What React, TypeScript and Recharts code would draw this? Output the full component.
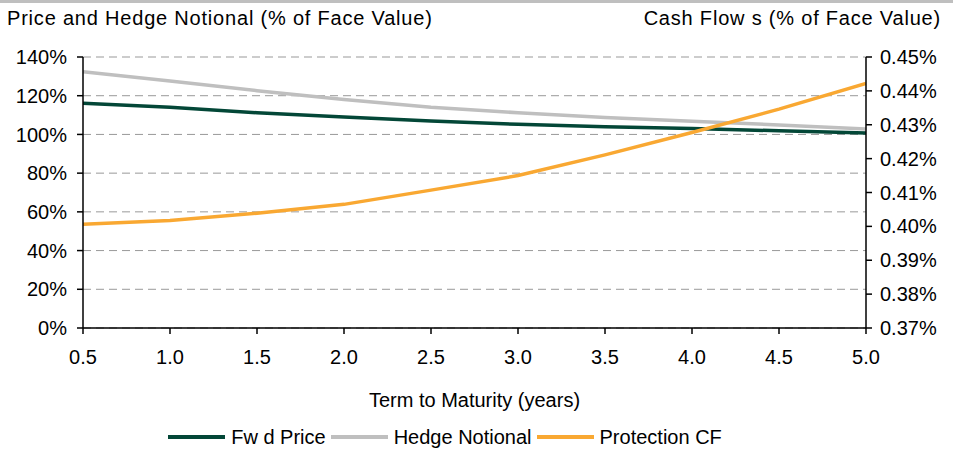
import React from 'react';
import { LineChart, Line, XAxis, YAxis, CartesianGrid, Legend } from 'recharts';

const terms = [0.5, 1.0, 1.5, 2.0, 2.5, 3.0, 3.5, 4.0, 4.5, 5.0];
const fwdPrice = [116.1, 114.0, 111.2, 109.0, 106.9, 105.2, 104.0, 103.0, 101.9, 100.7];
const hedgeNotional = [132.4, 127.6, 122.6, 118.1, 114.0, 111.2, 108.8, 106.8, 104.9, 102.8];
const protectionCF = [0.4006, 0.4017, 0.4039, 0.4065, 0.4107, 0.415, 0.4211, 0.4277, 0.4346, 0.4422];

const leftTicks = [0, 20, 40, 60, 80, 100, 120, 140];
const rightTicks = [0.37, 0.38, 0.39, 0.4, 0.41, 0.42, 0.43, 0.44, 0.45];
const xTicks = terms;

const seriesInfo = [
  { key: 'fwd', name: 'Fw d Price', color: '#034737' },
  { key: 'hedge', name: 'Hedge Notional', color: '#BFBFBF' },
  { key: 'cf', name: 'Protection CF', color: '#F9A832' },
];

const data = terms.map((t, i) => ({
  term: t,
  fwd: fwdPrice[i],
  hedge: hedgeNotional[i],
  cf: protectionCF[i],
}));

const FONT = '"Liberation Sans", Arial, sans-serif';
const FS = 20;

const LegendContent = () => (
  <div
    style={{
      display: 'flex',
      justifyContent: 'center',
      alignItems: 'center',
      height: 20,
      paddingRight: 58,
      fontFamily: FONT,
      fontSize: FS,
      color: '#000',
      boxSizing: 'border-box',
      width: 953,
    }}
  >
    {seriesInfo.map((s) => (
      <div key={s.key} style={{ display: 'flex', alignItems: 'center', marginRight: 5 }}>
        <div style={{ width: 57, height: 4, background: s.color, marginRight: 6 }} />
        <span style={{ whiteSpace: 'pre' }}>{s.name}</span>
      </div>
    ))}
  </div>
);

export default function App() {
  return (
    <div
      style={{
        position: 'absolute',
        left: 0,
        top: 0,
        width: 953,
        height: 453,
        background: '#fff',
        fontFamily: FONT,
        overflow: 'hidden',
      }}
    >
      <div style={{ position: 'absolute', left: 0, top: 0, width: 953, height: 3, background: '#BFBFBF' }} />
      <div
        style={{
          position: 'absolute',
          left: 7,
          top: 8,
          fontSize: FS,
          lineHeight: '20px',
          letterSpacing: '0.8px',
          color: '#000',
          whiteSpace: 'pre',
        }}
      >
        Price and Hedge Notional (% of Face Value)
      </div>
      <div
        style={{
          position: 'absolute',
          right: 12,
          top: 8,
          fontSize: FS,
          lineHeight: '20px',
          letterSpacing: '0.8px',
          color: '#000',
          whiteSpace: 'pre',
        }}
      >
        Cash Flow s (% of Face Value)
      </div>
      <LineChart width={953} height={453} data={data} margin={{ top: 57, right: 0, left: 0, bottom: 6 }}>
        <CartesianGrid
          yAxisId="left"
          vertical={false}
          stroke="#999999"
          strokeDasharray="8 5"
          strokeWidth={1}
        />
        <XAxis
          dataKey="term"
          type="number"
          domain={[0.5, 5]}
          ticks={xTicks}
          tickFormatter={(v: number) => v.toFixed(1)}
          height={99}
          tickSize={6}
          tickMargin={16}
          stroke="#000"
          strokeWidth={1.5}
          tick={{ fill: '#000', fontSize: FS, fontFamily: FONT }}
          interval={0}
          allowDataOverflow
          label={{
            content: (props: any) => {
              const vb = props.viewBox || {};
              return (
                <text
                  x={vb.x + vb.width / 2}
                  y={vb.y + 79}
                  textAnchor="middle"
                  fill="#000"
                  fontSize={FS}
                  fontFamily={FONT}
                >
                  Term to Maturity (years)
                </text>
              );
            },
          }}
        />
        <YAxis
          yAxisId="left"
          orientation="left"
          width={83}
          domain={[0, 140]}
          ticks={leftTicks}
          tickFormatter={(v: number) => `${v}%`}
          tickSize={6}
          tickMargin={10}
          stroke="#000"
          strokeWidth={1.5}
          tick={{ fill: '#000', fontSize: FS, fontFamily: FONT }}
          interval={0}
        />
        <YAxis
          yAxisId="right"
          orientation="right"
          width={87}
          domain={[0.37, 0.45]}
          ticks={rightTicks}
          tickFormatter={(v: number) => `${v.toFixed(2)}%`}
          tickSize={6}
          tickMargin={8}
          stroke="#000"
          strokeWidth={1.5}
          tick={{ fill: '#000', fontSize: FS, fontFamily: FONT }}
          interval={0}
          allowDataOverflow
        />
        <Legend verticalAlign="bottom" content={<LegendContent />} />
        <Line
          yAxisId="left"
          type="linear"
          dataKey="hedge"
          name="Hedge Notional"
          stroke="#BFBFBF"
          strokeWidth={3.5}
          dot={false}
          isAnimationActive={false}
        />
        <Line
          yAxisId="left"
          type="linear"
          dataKey="fwd"
          name="Fw d Price"
          stroke="#034737"
          strokeWidth={3.5}
          dot={false}
          isAnimationActive={false}
        />
        <Line
          yAxisId="right"
          type="linear"
          dataKey="cf"
          name="Protection CF"
          stroke="#F9A832"
          strokeWidth={3.5}
          dot={false}
          isAnimationActive={false}
        />
      </LineChart>
    </div>
  );
}
